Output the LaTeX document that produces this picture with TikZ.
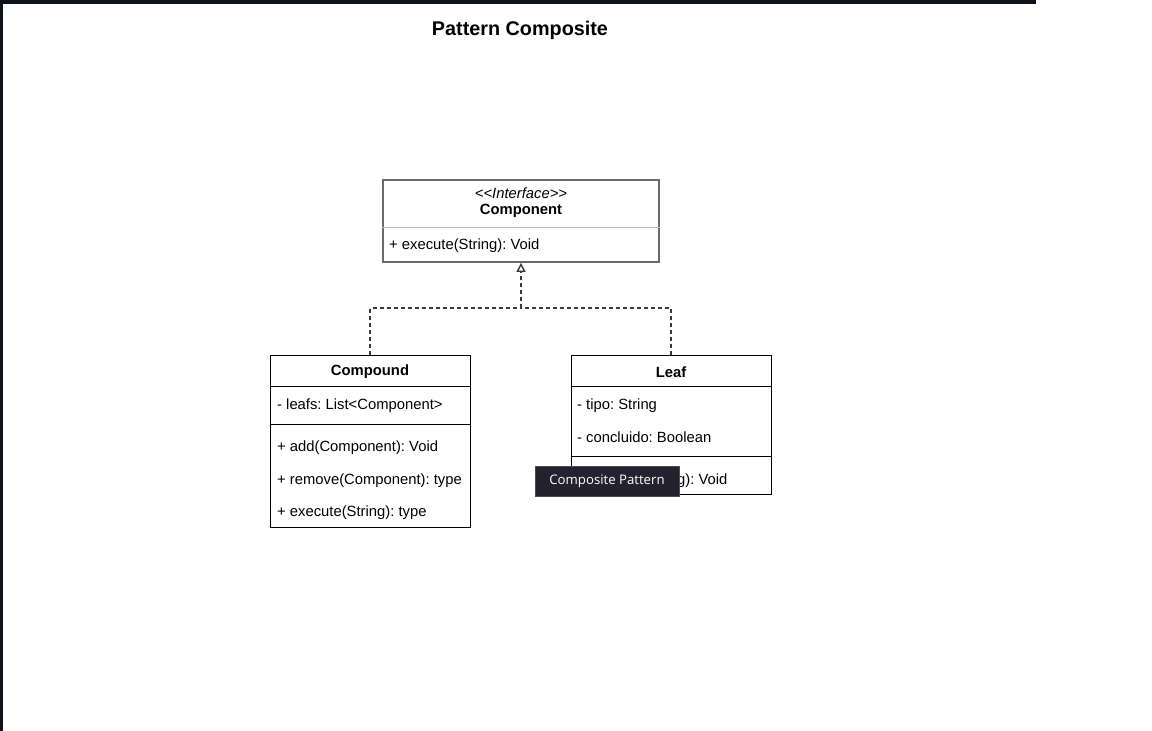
\documentclass[tikz,border=0pt]{standalone}
\usepackage{fontspec}
\setmainfont{Liberation Sans}
\newfontfamily\tipfont{Open Sans}
\usepackage{tikz}
\usetikzlibrary{positioning, arrows.meta}

\definecolor{screendark}{HTML}{0F131A}
\definecolor{tipfill}{HTML}{25222F}
\definecolor{ifacegray}{HTML}{6A6A6A}
\definecolor{rulegray}{HTML}{BDBDBD}
\definecolor{linkgray}{HTML}{3A3A3A}
\frenchspacing

\begin{document}
\begin{tikzpicture}[x=1pt, y=-1pt,
    classbox/.style={draw=black, line width=1pt, inner sep=0pt},
    member/.style={anchor=west, inner sep=0pt, font=\fontsize{14.8}{17}\selectfont},
    classname/.style={inner sep=0pt, font=\bfseries\fontsize{14.8}{17}\selectfont},
    realize/.style={draw=linkgray, line width=1.5pt, dash pattern=on 4pt off 3pt}]
      \useasboundingbox (0,0) rectangle (1152,731);
      \fill[screendark] (0,0) rectangle (1036,4);
      \fill[screendark] (0,0) rectangle (3,731);
      \node[inner sep=0pt, font=\bfseries\fontsize{19.8}{23}\selectfont] (title) at (520,30) {Pattern Composite};

      % interface
      \node[classbox, draw=ifacegray, line width=1.8pt, minimum width=276pt, minimum height=82pt] (comp) at (521,221) {};
      \node[inner sep=0pt, font=\itshape\fontsize{14.8}{17}\selectfont] (compstereo) at (521,193) {{<}{<}Interface{>}{>}};
      \node[classname] (compname) at (521,211) {Component};
      \draw[rulegray, line width=1pt] ([yshift=-48pt]comp.north west) -- ([yshift=-48pt]comp.north east);
      \node[member] (compexec) at (389,245.5) {+ execute(String): Void};

      % composite
      \node[classbox, minimum width=200pt, minimum height=172pt] (compound) at (370,441) {};
      \node[classname] (compoundname) at (370,372) {Compound};
      \draw[line width=1pt] ([yshift=-32pt]compound.north west) -- ([yshift=-32pt]compound.north east);
      \node[member] (leafsattr) at (277,405.5) {- leafs: List<Component>};
      \draw[line width=1pt] ([yshift=-70pt]compound.north west) -- ([yshift=-70pt]compound.north east);
      \node[member] (addop) at (277,447.5) {+ add(Component): Void};
      \node[member] (removeop) at (277,480.5) {+ remove(Component): type};
      \node[member] (compoundexec) at (277,512.5) {+ execute(String): type};

      % leaf
      \node[classbox, minimum width=200pt, minimum height=139pt] (leaf) at (671,424.5) {};
      \node[classname] (leafname) at (671,372) {Leaf};
      \draw[line width=1pt] ([yshift=-32pt]leaf.north west) -- ([yshift=-32pt]leaf.north east);
      \node[member] (tipoattr) at (577,405.5) {- tipo: String};
      \node[member] (concluidoattr) at (577,437.5) {- concluido: Boolean};
      \draw[line width=1pt] ([yshift=-102pt]leaf.north west) -- ([yshift=-102pt]leaf.north east);
      \node[member] (leafexec) at (577,480.5) {+ execute(String): Void};

      \coordinate (join) at (comp.south |- 0,308);
      \draw[realize] (compound.north) |- (join);
      \draw[realize] (leaf.north) |- (join);
      \draw[realize, -{Triangle[open, length=9pt, width=9pt, line width=1.4pt, sep=0pt]}] (join) -- (comp.south);

      \node[fill=tipfill, draw=gray!60!black, line width=0.5pt, minimum width=144pt, minimum height=30pt, inner sep=0pt,
            text=white, font=\tipfont\fontsize{13.2}{16}\selectfont] (tooltip) at (607,481) {Composite Pattern};
    \end{tikzpicture}
\end{document}
